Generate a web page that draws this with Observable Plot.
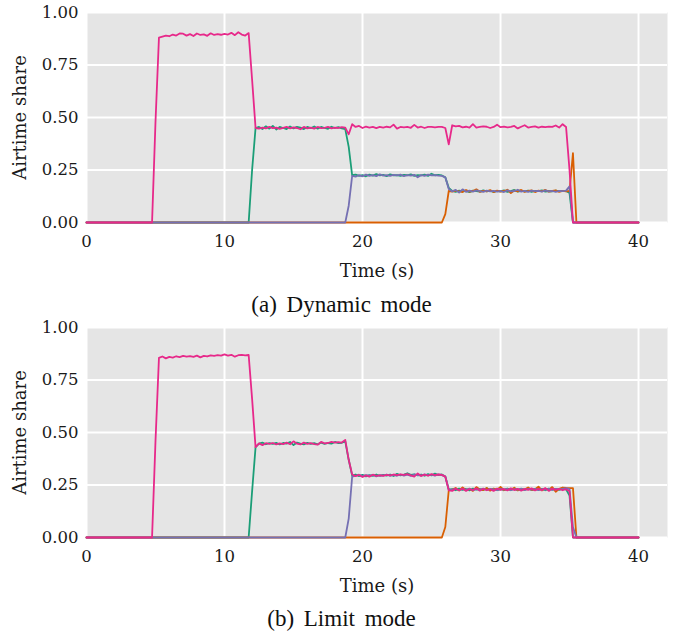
<!DOCTYPE html>
<html>
<head>
<meta charset="utf-8">
<script src="https://cdn.jsdelivr.net/npm/d3@7"></script>
<script src="https://cdn.jsdelivr.net/npm/@observablehq/plot@0.6"></script>
<style>
  html, body { margin: 0; padding: 0; background: #ffffff; }
  #wrap { position: relative; width: 676px; height: 635px; overflow: hidden; }
  .panel { position: absolute; left: 0; }
  .caption { position: absolute; left: 0; width: 683px; text-align: center;
    font-family: "Liberation Serif", serif; font-size: 23px; line-height: 23px;
    color: #111; word-spacing: 4px; }
</style>
</head>
<body>
<div id="wrap">
  <div id="pa" class="panel" style="top:0px"></div>
  <div class="caption" style="top:293px">(a) Dynamic mode</div>
  <div id="pb" class="panel" style="top:315px"></div>
  <div class="caption" style="top:607px">(b) Limit mode</div>
</div>
<script>
// Sampling grid: 0 s to 40 s every 0.25 s (161 samples)
const time = d3.range(161).map(i => i * 0.25);
const xTicks = [0, 10, 20, 30, 40];
const yTicks = [0, 0.25, 0.5, 0.75, 1];
const seriesNames = ["Station 1", "Station 2", "Station 3", "Station 4"];

// ---------- (a) Dynamic mode ----------
const aPink = [
  0,0,0,0,0,0,0,0,0,0,0,0,0,0,0,0,0,0,0,0,
  0.48,0.88,
  0.885,0.89,0.887,0.895,0.89,0.9,0.899,0.89,0.897,0.888,0.9,0.893,0.896,0.889,0.901,0.893,0.897,0.894,0.898,0.895,0.903,0.892,0.906,0.895,0.89,0.902,
  0.68,0.45,
  0.447,0.452,0.448,0.455,0.449,0.452,0.446,0.451,0.455,0.448,0.453,0.45,0.444,0.455,0.448,0.452,0.447,0.455,0.449,0.451,0.455,0.448,0.452,0.45,0.454,0.452,
  0.42,0.468,
  0.455,0.46,0.45,0.457,0.452,0.455,0.449,0.455,0.452,0.456,0.453,0.466,0.447,0.455,0.453,0.455,0.451,0.465,0.452,0.456,0.45,0.455,0.455,0.453,0.455,0.455,0.45,
  0.372,
  0.463,0.458,0.46,0.453,0.456,0.452,0.468,0.452,0.455,0.458,0.456,0.45,0.455,0.466,0.454,0.457,0.453,0.455,0.46,0.448,0.456,0.463,0.452,0.455,0.458,0.452,0.456,0.454,0.457,0.455,0.462,0.452,0.468,0.455,
  0.25,
  0,0,0,0,0,0,0,0,0,0,0,0,0,0,0,0,0,0,0,0
];
const aGreen = [
  0,0,0,0,0,0,0,0,0,0,0,0,0,0,0,0,0,0,0,0,
  0,0,0,0,0,0,0,0,0,0,0,0,0,0,0,0,0,0,0,0,
  0,0,0,0,0,0,0,0,
  0.25,0.45,
  0.455,0.445,0.458,0.447,0.46,0.443,0.455,0.45,0.445,0.457,0.448,0.455,0.452,0.445,0.455,0.449,0.457,0.447,0.455,0.45,0.446,0.456,0.45,0.454,0.448,0.445,
  0.36,0.225,
  0.228,0.222,0.226,0.22,0.228,0.223,0.23,0.224,0.227,0.221,0.229,0.224,0.226,0.222,0.227,0.225,0.229,0.222,0.226,0.224,0.228,0.222,0.232,0.225,0.227,0.224,
  0.215,0.165,
  0.15,0.146,0.152,0.148,0.15,0.145,0.152,0.149,0.147,0.153,0.148,0.151,0.146,0.15,0.148,0.153,0.146,0.15,0.155,0.147,0.151,0.148,0.152,0.146,0.15,0.149,0.153,0.147,0.15,0.148,0.152,0.149,0.151,0.15,
  0.14,
  0,0,0,0,0,0,0,0,0,0,0,0,0,0,0,0,0,0,0,0
];
const aPurple = [
  0,0,0,0,0,0,0,0,0,0,0,0,0,0,0,0,0,0,0,0,
  0,0,0,0,0,0,0,0,0,0,0,0,0,0,0,0,0,0,0,0,
  0,0,0,0,0,0,0,0,0,0,0,0,0,0,0,0,0,0,0,0,
  0,0,0,0,0,0,0,0,0,0,0,0,0,0,0,0,
  0.08,0.222,
  0.218,0.226,0.22,0.228,0.222,0.226,0.221,0.229,0.223,0.226,0.222,0.227,0.224,0.228,0.221,0.226,0.223,0.227,0.215,0.226,0.222,0.228,0.224,0.226,0.223,0.222,
  0.215,0.16,
  0.148,0.155,0.143,0.158,0.146,0.152,0.147,0.153,0.149,0.146,0.152,0.148,0.151,0.147,0.15,0.145,0.153,0.148,0.15,0.156,0.147,0.151,0.146,0.152,0.149,0.151,0.147,0.153,0.148,0.15,0.146,0.151,0.149,0.152,
  0.172,
  0,0,0,0,0,0,0,0,0,0,0,0,0,0,0,0,0,0,0,0
];
const aOrange = [
  0,0,0,0,0,0,0,0,0,0,0,0,0,0,0,0,0,0,0,0,
  0,0,0,0,0,0,0,0,0,0,0,0,0,0,0,0,0,0,0,0,
  0,0,0,0,0,0,0,0,0,0,0,0,0,0,0,0,0,0,0,0,
  0,0,0,0,0,0,0,0,0,0,0,0,0,0,0,0,0,0,0,0,
  0,0,0,0,0,0,0,0,0,0,0,0,0,0,0,0,0,0,0,0,
  0,0,0,0,
  0.04,0.15,
  0.147,0.152,0.148,0.145,0.155,0.147,0.15,0.158,0.146,0.151,0.148,0.154,0.145,0.152,0.147,0.15,0.156,0.14,0.152,0.148,0.155,0.146,0.15,0.153,0.145,0.152,0.148,0.155,0.147,0.15,0.153,0.146,0.151,0.148,
  0.15,
  0.33,
  0,0,0,0,0,0,0,0,0,0,0,0,0,0,0,0,0,0,0
];

// ---------- (b) Limit mode ----------
const bPink = [
  0,0,0,0,0,0,0,0,0,0,0,0,0,0,0,0,0,0,0,0,
  0.46,0.855,
  0.862,0.853,0.86,0.857,0.863,0.859,0.865,0.861,0.864,0.86,0.866,0.858,0.865,0.862,0.867,0.865,0.868,0.866,0.872,0.866,0.87,0.861,0.868,0.87,0.867,0.869,
  0.66,0.43,
  0.448,0.44,0.449,0.446,0.45,0.443,0.448,0.445,0.452,0.444,0.458,0.447,0.443,0.452,0.446,0.449,0.445,0.442,0.455,0.448,0.45,0.455,0.452,0.454,0.452,0.465,
  0.37,0.30,
  0.292,0.298,0.288,0.296,0.29,0.299,0.293,0.296,0.294,0.298,0.296,0.3,0.297,0.301,0.298,0.302,0.296,0.29,0.305,0.293,0.299,0.294,0.302,0.297,0.3,0.298,
  0.29,0.225,
  0.222,0.232,0.225,0.233,0.222,0.231,0.226,0.234,0.223,0.232,0.225,0.23,0.222,0.233,0.227,0.231,0.224,0.234,0.226,0.232,0.223,0.231,0.227,0.234,0.224,0.232,0.226,0.235,0.222,0.233,0.227,0.231,0.225,0.23,
  0.22,
  0,0,0,0,0,0,0,0,0,0,0,0,0,0,0,0,0,0,0,0
];
const bGreen = [
  0,0,0,0,0,0,0,0,0,0,0,0,0,0,0,0,0,0,0,0,
  0,0,0,0,0,0,0,0,0,0,0,0,0,0,0,0,0,0,0,0,
  0,0,0,0,0,0,0,0,
  0.22,0.43,
  0.447,0.452,0.444,0.449,0.446,0.451,0.443,0.45,0.447,0.455,0.44,0.452,0.447,0.443,0.451,0.446,0.449,0.444,0.452,0.446,0.45,0.447,0.455,0.449,0.451,0.458,
  0.37,0.295,
  0.3,0.292,0.298,0.291,0.297,0.293,0.3,0.294,0.298,0.295,0.3,0.293,0.303,0.296,0.3,0.306,0.298,0.301,0.296,0.3,0.294,0.302,0.296,0.304,0.297,0.3,
  0.29,0.228,
  0.23,0.225,0.233,0.227,0.231,0.224,0.233,0.228,0.231,0.226,0.234,0.228,0.232,0.225,0.23,0.227,0.233,0.228,0.232,0.226,0.23,0.228,0.234,0.226,0.231,0.228,0.232,0.225,0.233,0.228,0.231,0.227,0.233,0.229,
  0.2,
  0,0,0,0,0,0,0,0,0,0,0,0,0,0,0,0,0,0,0,0
];
const bPurple = [
  0,0,0,0,0,0,0,0,0,0,0,0,0,0,0,0,0,0,0,0,
  0,0,0,0,0,0,0,0,0,0,0,0,0,0,0,0,0,0,0,0,
  0,0,0,0,0,0,0,0,0,0,0,0,0,0,0,0,0,0,0,0,
  0,0,0,0,0,0,0,0,0,0,0,0,0,0,0,0,
  0.09,0.29,
  0.294,0.299,0.292,0.297,0.294,0.298,0.291,0.297,0.295,0.3,0.293,0.298,0.294,0.3,0.295,0.299,0.293,0.3,0.297,0.295,0.301,0.296,0.299,0.294,0.301,0.297,
  0.29,0.228,
  0.228,0.232,0.226,0.231,0.227,0.233,0.225,0.23,0.228,0.233,0.226,0.231,0.229,0.226,0.232,0.228,0.231,0.225,0.23,0.228,0.233,0.226,0.231,0.228,0.232,0.226,0.23,0.228,0.232,0.227,0.231,0.229,0.232,0.235,
  0.23,
  0.05,
  0,0,0,0,0,0,0,0,0,0,0,0,0,0,0,0,0,0,0
];
const bOrange = [
  0,0,0,0,0,0,0,0,0,0,0,0,0,0,0,0,0,0,0,0,
  0,0,0,0,0,0,0,0,0,0,0,0,0,0,0,0,0,0,0,0,
  0,0,0,0,0,0,0,0,0,0,0,0,0,0,0,0,0,0,0,0,
  0,0,0,0,0,0,0,0,0,0,0,0,0,0,0,0,0,0,0,0,
  0,0,0,0,0,0,0,0,0,0,0,0,0,0,0,0,0,0,0,0,
  0,0,0,0,
  0.05,0.225,
  0.228,0.236,0.224,0.238,0.226,0.232,0.222,0.24,0.229,0.226,0.236,0.223,0.233,0.228,0.241,0.225,0.231,0.227,0.237,0.224,0.232,0.228,0.238,0.226,0.23,0.242,0.224,0.233,0.228,0.24,0.218,0.232,0.238,0.236,
  0.235,
  0.235,
  0,0,0,0,0,0,0,0,0,0,0,0,0,0,0,0,0,0,0
];

const colors = { green: "#1b9e77", orange: "#d95f02", purple: "#7570b3", pink: "#e7298a" };

function check(name, arr) {
  if (arr.length !== time.length) throw new Error(name + " has " + arr.length + " values");
}
[["aPink",aPink],["aGreen",aGreen],["aPurple",aPurple],["aOrange",aOrange],
 ["bPink",bPink],["bGreen",bGreen],["bPurple",bPurple],["bOrange",bOrange]].forEach(([n,a]) => check(n,a));

function rows(values) {
  return values.map((v, i) => ({ t: time[i], v }));
}

function panel(series, height) {
  // draw order: green, orange, purple, pink (pink on top)
  const lines = series.map(s => Plot.line(rows(s.values), {
    x: "t", y: "v", stroke: s.color, strokeWidth: 1.8, strokeLinejoin: "round"
  }));
  return Plot.plot({
    width: 676,
    height: height,
    marginTop: 12,
    marginBottom: height - 222,
    marginLeft: 86,
    marginRight: 9,
    style: { fontFamily: "'DejaVu Serif', serif", fontSize: "16.5px", color: "#1a1a1a", background: "transparent" },
    x: { domain: [0, 42.1] },
    y: { domain: [0, 1] },
    marks: [
      Plot.frame({ fill: "#e5e5e5", stroke: null }),
      Plot.gridX(xTicks, { stroke: "#ffffff", strokeOpacity: 1, strokeWidth: 2 }),
      Plot.gridY(yTicks, { stroke: "#ffffff", strokeOpacity: 1, strokeWidth: 2 }),
      Plot.axisX(xTicks, { tickSize: 0, tickPadding: 13, label: null, fontSize: 16.5 }),
      Plot.axisY(yTicks, { tickSize: 0, tickPadding: 8, tickFormat: d3.format(".2f"), label: null, fontSize: 16.5 }),
      Plot.axisX([], { label: "Time (s)", labelAnchor: "center", labelArrow: "none", labelOffset: 54, fontSize: 18 }),
      Plot.axisY([], { label: "Airtime share", labelAnchor: "center", labelArrow: "none", labelOffset: 73, fontSize: 18 }),
      ...lines
    ]
  });
}

const aSeries = [
  { name: seriesNames[1], values: aGreen, color: colors.green },
  { name: seriesNames[3], values: aOrange, color: colors.orange },
  { name: seriesNames[2], values: aPurple, color: colors.purple },
  { name: seriesNames[0], values: aPink, color: colors.pink }
];
const bSeries = [
  { name: seriesNames[1], values: bGreen, color: colors.green },
  { name: seriesNames[3], values: bOrange, color: colors.orange },
  { name: seriesNames[2], values: bPurple, color: colors.purple },
  { name: seriesNames[0], values: bPink, color: colors.pink }
];

document.getElementById("pa").appendChild(panel(aSeries, 286));
document.getElementById("pb").appendChild(panel(bSeries, 286));
</script>
</body>
</html>
